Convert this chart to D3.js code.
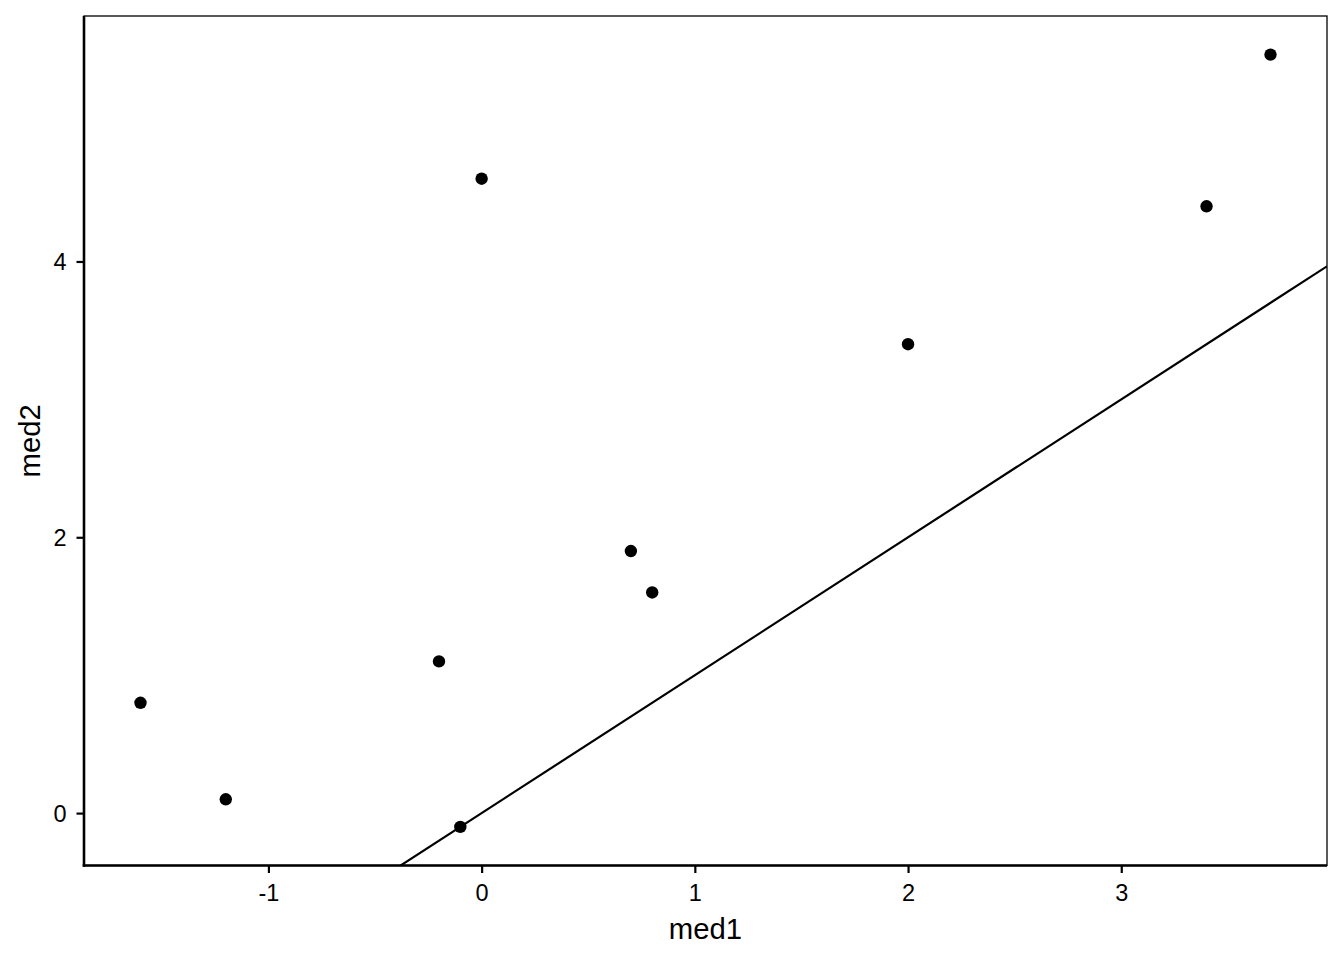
<!DOCTYPE html>
<html>
<head>
<meta charset="utf-8">
<script src="https://cdn.jsdelivr.net/npm/d3@7"></script>
<style>
  html, body { margin: 0; padding: 0; background: #fff; }
  svg { display: block; }
  text { font-family: "Liberation Sans", Arial, sans-serif; fill: #000; }
</style>
</head>
<body>
<svg id="chart" width="1344" height="960"></svg>
<script>
// Data
const med1 = [-1.6, -1.2, -0.2, -0.1, 0.0, 0.7, 0.8, 2.0, 3.4, 3.7];
const med2 = [0.8, 0.1, 1.1, -0.1, 4.6, 1.9, 1.6, 3.4, 4.4, 5.5];
const xTicks = [-1, 0, 1, 2, 3];
const yTicks = [0, 2, 4];
const xTitle = "med1";
const yTitle = "med2";
const ablineIntercept = 0, ablineSlope = 1;

const W = 1344, H = 960;
const panel = { left: 84, right: 1327, top: 16, bottom: 865.5 };
const tickFont = 23.5, titleFont = 29.3;

function expand(ext) {
  const r = ext[1] - ext[0];
  return [ext[0] - 0.05 * r, ext[1] + 0.05 * r];
}
const x = d3.scaleLinear().domain(expand(d3.extent(med1))).range([panel.left, panel.right]);
const y = d3.scaleLinear().domain(expand(d3.extent(med2))).range([panel.bottom, panel.top]);

const svg = d3.select("#chart");

svg.append("defs").append("clipPath").attr("id", "clip")
  .append("rect")
  .attr("x", panel.left).attr("y", panel.top)
  .attr("width", panel.right - panel.left).attr("height", panel.bottom - panel.top);

// panel border (thin, top/right)
svg.append("rect")
  .attr("x", panel.left).attr("y", panel.top)
  .attr("width", panel.right - panel.left).attr("height", panel.bottom - panel.top)
  .attr("fill", "none").attr("stroke", "#000").attr("stroke-width", 1.3);

// abline
const xd = x.domain();
svg.append("line")
  .attr("clip-path", "url(#clip)")
  .attr("x1", x(xd[0])).attr("y1", y(ablineIntercept + ablineSlope * xd[0]))
  .attr("x2", x(xd[1])).attr("y2", y(ablineIntercept + ablineSlope * xd[1]))
  .attr("stroke", "#000").attr("stroke-width", 2.2);

// points
svg.append("g").selectAll("circle")
  .data(med1.map((v, i) => [v, med2[i]]))
  .join("circle")
  .attr("cx", d => x(d[0])).attr("cy", d => y(d[1]))
  .attr("r", 6.2).attr("fill", "#000");

// x axis
const xAxis = svg.append("g")
  .attr("transform", `translate(0,${panel.bottom})`)
  .call(d3.axisBottom(x).tickValues(xTicks).tickSizeInner(7.5).tickSizeOuter(0).tickPadding(0).tickFormat(d3.format("d")));
xAxis.attr("font-size", tickFont).attr("font-family", "'Liberation Sans', Arial, sans-serif");
xAxis.select(".domain").attr("stroke", "#000").attr("stroke-width", 2.6)
  .attr("d", `M${panel.left - 1.3},0H${panel.right}`);
xAxis.selectAll(".tick line").attr("stroke", "#000").attr("stroke-width", 2.2);
xAxis.selectAll(".tick text")
  .attr("y", 35).attr("dy", 0)
  .attr("font-size", tickFont).style("font-size", tickFont + "px").attr("fill", "#000")
  .text(d => d < 0 ? "-" + Math.abs(d) : d);

// y axis
const yAxis = svg.append("g")
  .attr("transform", `translate(${panel.left},0)`)
  .call(d3.axisLeft(y).tickValues(yTicks).tickSizeInner(7.5).tickSizeOuter(0).tickPadding(0).tickFormat(d3.format("d")));
yAxis.attr("font-size", tickFont).attr("font-family", "'Liberation Sans', Arial, sans-serif");
yAxis.select(".domain").attr("stroke", "#000").attr("stroke-width", 2.6)
  .attr("d", `M0,${panel.bottom + 1.3}V${panel.top}`);
yAxis.selectAll(".tick line").attr("stroke", "#000").attr("stroke-width", 2.2);
yAxis.selectAll(".tick text")
  .attr("x", -17.5).attr("dy", "0.36em")
  .attr("font-size", tickFont).style("font-size", tickFont + "px").attr("fill", "#000");

// titles
svg.append("text")
  .attr("x", (panel.left + panel.right) / 2).attr("y", 938.5)
  .attr("text-anchor", "middle").style("font-size", titleFont + "px")
  .text(xTitle);
svg.append("text")
  .attr("transform", `translate(39.5,${(panel.top + panel.bottom) / 2}) rotate(-90)`)
  .attr("text-anchor", "middle").style("font-size", titleFont + "px")
  .text(yTitle);
</script>
</body>
</html>
